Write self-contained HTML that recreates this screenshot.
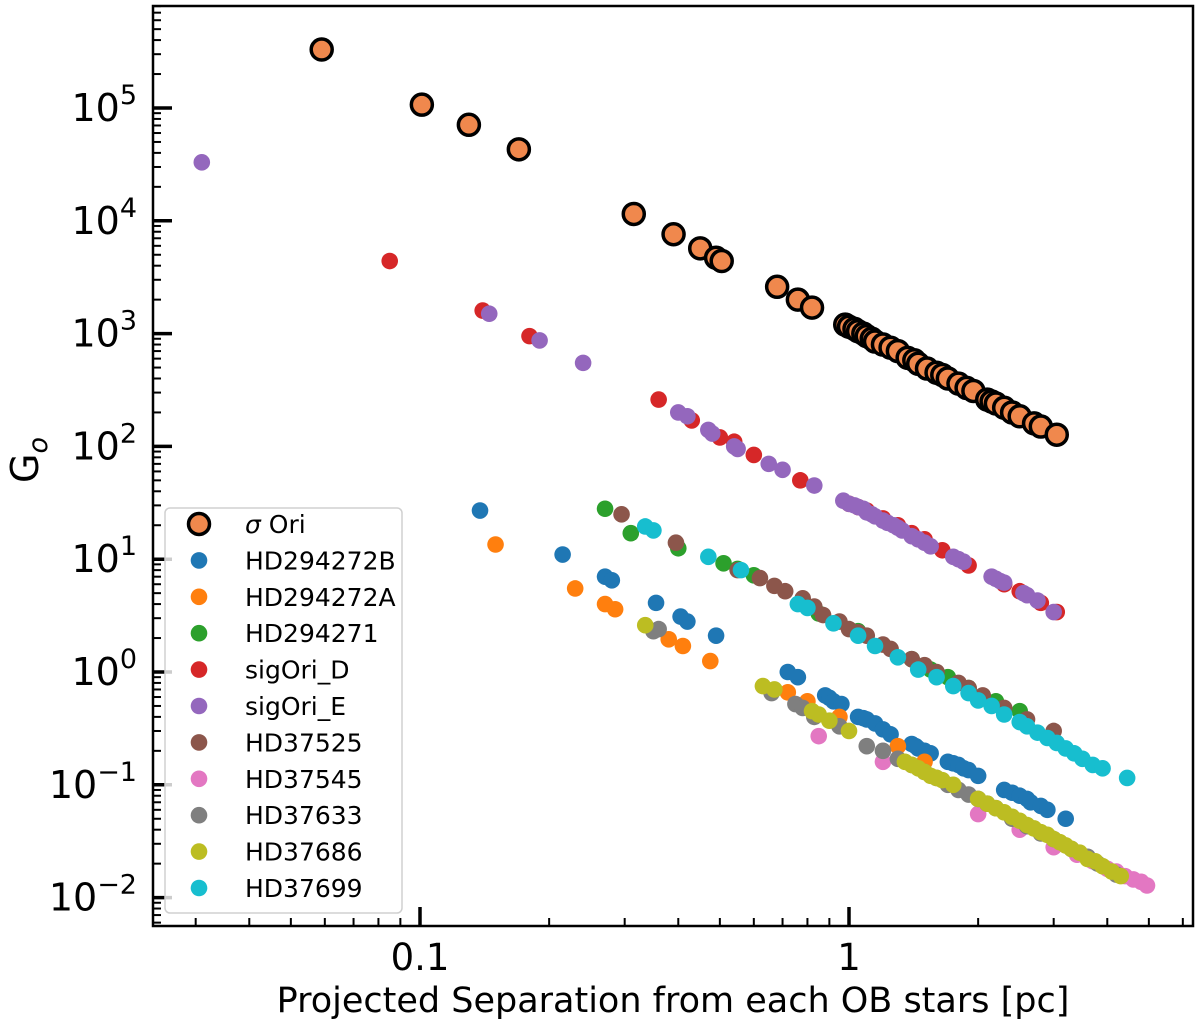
<!DOCTYPE html>
<html><head><meta charset="utf-8">
<style>
html,body{margin:0;padding:0;background:#fff;}
svg{display:block;font-family:"DejaVu Sans","Liberation Sans",sans-serif;}
</style></head>
<body>
<svg id="chart" width="1200" height="1027" viewBox="0 0 1200 1027" xmlns="http://www.w3.org/2000/svg">
<g id="marks"></g>
<g id="axes"></g>
<g id="legend"></g>
</svg>
<script>
const seriesNames = ["σ Ori","HD294272B","HD294272A","HD294271","sigOri_D","sigOri_E","HD37525","HD37545","HD37633","HD37686","HD37699"];
const seriesColors = ["#f0884d","#1f77b4","#ff7f0e","#2ca02c","#d62728","#9467bd","#8c564b","#e377c2","#7f7f7f","#bcbd22","#17becf"];
const xSigOri = [0.059,0.101,0.13,0.17,0.315,0.39,0.45,0.49,0.505,0.68,0.76,0.82,0.98,1.0,1.03,1.05,1.08,1.1,1.13,1.15,1.2,1.25,1.3,1.37,1.42,1.45,1.52,1.6,1.65,1.7,1.8,1.88,1.95,2.1,2.15,2.2,2.3,2.4,2.5,2.7,2.8,3.05];
const ySigOri = [3.3e5,1.07e5,7.1e4,4.3e4,1.15e4,7.6e3,5.7e3,4.7e3,4.4e3,2.6e3,2.0e3,1.7e3,1.2e3,1.15e3,1.1e3,1.05e3,1.0e3,950,900,850,800,750,700,610,580,540,490,450,430,400,360,330,310,260,250,240,220,200,185,160,150,127];
const xB = [0.138,0.215,0.27,0.28,0.355,0.405,0.42,0.49,0.72,0.76,0.88,0.9,0.92,0.96,1.05,1.08,1.1,1.15,1.2,1.25,1.4,1.43,1.45,1.5,1.55,1.7,1.75,1.8,1.85,1.9,2.0,2.3,2.4,2.5,2.6,2.65,2.8,2.9,3.2];
const yB = [27,11,7,6.5,4.1,3.1,2.8,2.1,1.0,0.9,0.62,0.59,0.55,0.52,0.4,0.39,0.38,0.35,0.31,0.28,0.23,0.22,0.21,0.2,0.19,0.16,0.155,0.15,0.14,0.135,0.12,0.09,0.085,0.08,0.075,0.07,0.065,0.06,0.05];
const xA = [0.15,0.23,0.27,0.285,0.38,0.41,0.475,0.72,0.8,0.95,1.3,1.5];
const yA = [13.5,5.5,4.0,3.6,1.95,1.7,1.25,0.66,0.55,0.4,0.22,0.16];
const x271 = [0.27,0.31,0.40,0.51,0.55,0.6,0.78,0.85,1.05,1.4,1.55,1.7,1.9,2.2,2.5];
const y271 = [28,17,12.5,9.2,8.2,7.2,4.2,3.3,2.3,1.3,1.05,0.9,0.72,0.55,0.45];
const xD = [0.085,0.14,0.18,0.36,0.43,0.5,0.54,0.6,0.77,1.0,1.05,1.1,1.2,1.3,1.4,1.5,1.65,1.9,2.3,2.5,2.8,3.05];
const yD = [4400,1600,950,260,170,120,110,84,50,31,29,27,23,20,17,15,12,8.8,6,5.2,4.1,3.4];
const xE = [0.031,0.145,0.19,0.24,0.4,0.42,0.47,0.48,0.54,0.55,0.65,0.7,0.83,0.97,1.0,1.03,1.05,1.08,1.1,1.13,1.15,1.2,1.23,1.27,1.3,1.33,1.4,1.45,1.5,1.55,1.75,1.8,1.85,2.15,2.2,2.25,2.3,2.55,2.6,2.75,3.0];
const yE = [3.3e4,1500,870,550,200,185,140,130,100,95,70,62,45,33,31,30,29,28,26,25,24,22,21,20,19,18,16,15,14,13,10.5,10,9.5,7,6.7,6.4,6.2,5,4.8,4.3,3.4];
const x525 = [0.295,0.395,0.55,0.62,0.67,0.71,0.78,0.83,0.87,0.95,1.0,1.05,1.1,1.2,1.25,1.4,1.5,1.6,1.8,1.9,2.05,2.3,2.6,3.0];
const y525 = [25,14,8,6.8,5.8,5.2,4.5,3.8,3.2,2.8,2.4,2.25,2.1,1.75,1.6,1.3,1.15,1.0,0.8,0.72,0.62,0.48,0.38,0.3];
const x545 = [0.85,1.2,2.0,2.5,3.0,3.4,3.7,4.0,4.2,4.4,4.6,4.8,4.95];
const y545 = [0.27,0.16,0.055,0.04,0.028,0.024,0.021,0.018,0.017,0.0155,0.0145,0.0138,0.0128];
const x633 = [0.35,0.36,0.66,0.75,0.78,0.83,0.95,1.1,1.2,1.3,1.4,1.5,1.6,1.7,1.8,1.9,2.0,2.1,2.2,2.4,2.6,2.8,3.0,3.3,3.6,3.8,4.2];
const y633 = [2.3,2.4,0.65,0.52,0.48,0.4,0.33,0.22,0.2,0.17,0.15,0.13,0.115,0.1,0.09,0.082,0.075,0.068,0.062,0.05,0.043,0.037,0.033,0.027,0.023,0.02,0.016];
const x686 = [0.335,0.63,0.67,0.82,0.85,0.9,1.0,1.35,1.4,1.45,1.5,1.55,1.6,1.65,1.75,2.0,2.1,2.2,2.3,2.4,2.5,2.6,2.7,2.8,2.9,3.0,3.1,3.2,3.3,3.45,3.6,3.75,3.9,4.1,4.3];
const y686 = [2.6,0.75,0.7,0.45,0.42,0.37,0.3,0.16,0.15,0.14,0.13,0.12,0.115,0.11,0.1,0.075,0.068,0.062,0.057,0.052,0.048,0.044,0.041,0.038,0.036,0.033,0.031,0.029,0.027,0.025,0.022,0.021,0.019,0.017,0.0155];
const x699 = [0.335,0.35,0.47,0.56,0.76,0.8,0.92,1.05,1.15,1.3,1.45,1.6,1.75,1.9,2.0,2.15,2.3,2.5,2.6,2.75,2.9,3.05,3.2,3.35,3.5,3.7,3.9,4.45];
const y699 = [19.5,18,10.5,8,4,3.7,2.7,2.1,1.7,1.35,1.05,0.9,0.75,0.65,0.56,0.5,0.42,0.36,0.33,0.29,0.26,0.235,0.21,0.19,0.17,0.15,0.14,0.115];
const xTickLabels = ["0.1","1"];
const yTickExps = [-2,-1,0,1,2,3,4,5];

const allX = [xSigOri,xB,xA,x271,xD,xE,x525,x545,x633,x686,x699];
const allY = [ySigOri,yB,yA,y271,yD,yE,y525,y545,y633,y686,y699];

const L=153, R=1193, T=6, B=926;
const X0=849, XD=429, Y0=672, YD=112.8;
function sx(v){return X0+Math.log10(v)*XD;}
function sy(v){return Y0-Math.log10(v)*YD;}
const NS="http://www.w3.org/2000/svg";
function mk(tag,attrs,parent){const e=document.createElementNS(NS,tag);for(const k in attrs)e.setAttribute(k,attrs[k]);parent.appendChild(e);return e;}

const marks=document.getElementById('marks');
allX.forEach((xs,si)=>{
  const g=mk('g',{},marks);
  
  
  xs.forEach((xv,i)=>{
    const c = si===0 ? mk('circle',{cx:sx(xv),cy:sy(allY[si][i]),r:10.5,fill:seriesColors[0],stroke:'#000','stroke-width':3.5},g)
                     : mk('circle',{cx:sx(xv),cy:sy(allY[si][i]),r:8.3,fill:seriesColors[si]},g);
    
    
  });
});

const axes=document.getElementById('axes');
for(let e=-3;e<=6;e++){
  for(let m=1;m<10;m++){
    const v=m*Math.pow(10,e); const y=sy(v);
    if(y<T||y>B) continue;
    const len = m===1?19:8;
    const t=mk('line',{x1:L,x2:L+len,y1:y,y2:y,stroke:'#000','stroke-width':m===1?3.5:2},axes);
    
    
  }
}
yTickExps.forEach(e=>{
  const y=sy(Math.pow(10,e));
  const t=mk('text',{x:137,y:y+13,'text-anchor':'end','font-size':38,fill:'#000'},axes);
  
  
  t.appendChild(document.createTextNode('10'));
  const s=mk('tspan',{dy:-17,'font-size':27},t);
  s.textContent = e<0 ? '\u2212'+Math.abs(e) : String(e);
});
for(let e=-2;e<=0;e++){
  for(let m=1;m<10;m++){
    const v=m*Math.pow(10,e); const x=sx(v);
    if(x<L||x>R) continue;
    const len = m===1?19:8;
    const t=mk('line',{x1:x,x2:x,y1:B,y2:B-len,stroke:'#000','stroke-width':m===1?3.5:2},axes);
    
    
  }
}
xTickLabels.forEach(lbl=>{
  const t=mk('text',{x:sx(parseFloat(lbl)),y:970,'text-anchor':'middle','font-size':37,fill:'#000'},axes);
  
  
  t.textContent=lbl;
});
const frame=mk('rect',{x:L,y:T,width:R-L,height:B-T,fill:'none',stroke:'#000','stroke-width':2.5},axes);


const xt=mk('text',{x:673,y:1012,'text-anchor':'middle','font-size':35,fill:'#000'},axes);


xt.textContent='Projected Separation from each OB stars [pc]';
const yt=mk('text',{x:0,y:0,'text-anchor':'middle','font-size':38,fill:'#000',transform:'translate(38,460) rotate(-90)'},axes);


yt.appendChild(document.createTextNode('G'));
const ys=mk('tspan',{dy:9,'font-size':27,'font-style':'italic'},yt);
ys.textContent='o';

const leg=document.getElementById('legend');
const box=mk('rect',{x:165,y:508,width:237,height:405,rx:5,fill:'#fff','fill-opacity':0.8,stroke:'#d0d0d0','stroke-width':1.5},leg);


seriesNames.forEach((n,i)=>{
  const y=524+i*36.4;
  const g=mk('g',{},leg);
  
  
  if(i===0) mk('circle',{cx:199,cy:y,r:10.5,fill:seriesColors[0],stroke:'#000','stroke-width':3.5},g);
  else mk('circle',{cx:199,cy:y,r:8.3,fill:seriesColors[i]},g);
  const t=mk('text',{x:245,y:y+9,'font-size':25,fill:'#000'},g);
  if(i===0){const s=mk('tspan',{'font-style':'italic'},t);s.textContent='σ';t.appendChild(document.createTextNode(' Ori'));}
  else t.textContent=n;
});
</script>
</body></html>
